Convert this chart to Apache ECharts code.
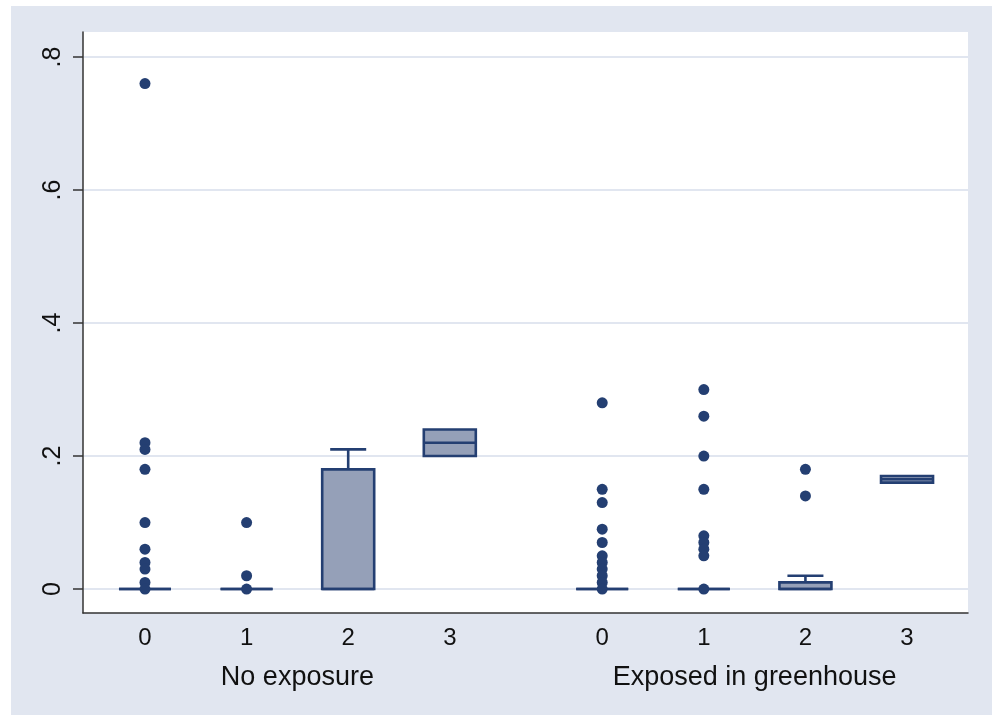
<!DOCTYPE html>
<html>
<head>
<meta charset="utf-8">
<script src="https://cdn.jsdelivr.net/npm/echarts@6.0.0/dist/echarts.min.js"></script>
<style>
  html, body { margin: 0; padding: 0; background: #ffffff; }
  #chart { width: 992px; height: 715px; }
</style>
</head>
<body>
<div id="chart"></div>
<script>
// Positions of the eight boxes on the horizontal scale (two groups of four)
const xPositions = [0, 1, 2, 3, 4.5, 5.5, 6.5, 7.5];
const xTickLabels = ['0', '1', '2', '3', '0', '1', '2', '3'];
const groupCenters = [1.5, 6];
const groupLabels = ['No exposure', 'Exposed in greenhouse'];
const yTicks = [0, 0.2, 0.4, 0.6, 0.8];

// Box statistics per box: [lower whisker, Q1, median, Q3, upper whisker]
const noExposureBoxes = [
  [0, 0, 0, 0, 0],
  [0, 0, 0, 0, 0],
  [0, 0, 0, 0.18, 0.21],
  [0.20, 0.20, 0.22, 0.24, 0.24]
];
const greenhouseBoxes = [
  [0, 0, 0, 0, 0],
  [0, 0, 0, 0, 0],
  [0, 0, 0, 0.01, 0.02],
  [0.16, 0.16, 0.165, 0.17, 0.17]
];

// Outside values per box
const noExposureOutliers = [
  [0.76, 0.22, 0.21, 0.18, 0.10, 0.06, 0.04, 0.03, 0.01, 0],
  [0.10, 0.02, 0],
  [],
  []
];
const greenhouseOutliers = [
  [0.28, 0.15, 0.13, 0.09, 0.07, 0.05, 0.04, 0.03, 0.02, 0.01, 0],
  [0.30, 0.26, 0.20, 0.15, 0.08, 0.07, 0.06, 0.05, 0],
  [0.18, 0.14],
  []
];

const navy = '#243f72';
const boxFill = '#95a0b8';
const gridColor = '#e1e6f0';
const BOX_W = 52;
const CAP_W = 36;
const LINE_W = 2.6;

const allBoxes = noExposureBoxes.concat(greenhouseBoxes);
const allOutliers = noExposureOutliers.concat(greenhouseOutliers);

const boxData = allBoxes.map((s, i) => [xPositions[i]].concat(s));
const outlierData = [];
allOutliers.forEach((vals, i) => {
  vals.forEach(v => outlierData.push([xPositions[i], v]));
});

function labelFromValue(list, labels) {
  return function (value) {
    for (let i = 0; i < list.length; i++) {
      if (Math.abs(list[i] - value) < 1e-6) return labels[i];
    }
    return '';
  };
}

function renderBox(params, api) {
  const x = api.value(0);
  const lo = api.value(1), q1 = api.value(2), med = api.value(3),
        q3 = api.value(4), hi = api.value(5);
  const cx = api.coord([x, 0])[0];
  const yLo = api.coord([x, lo])[1];
  const yQ1 = api.coord([x, q1])[1];
  const yMed = api.coord([x, med])[1];
  const yQ3 = api.coord([x, q3])[1];
  const yHi = api.coord([x, hi])[1];
  const line = { stroke: navy, lineWidth: LINE_W, fill: null };
  const children = [];
  if (hi > q3) {
    children.push({ type: 'line', shape: { x1: cx, y1: yQ3, x2: cx, y2: yHi }, style: line });
    children.push({ type: 'line', shape: { x1: cx - CAP_W / 2, y1: yHi, x2: cx + CAP_W / 2, y2: yHi }, style: line });
  }
  if (lo < q1) {
    children.push({ type: 'line', shape: { x1: cx, y1: yQ1, x2: cx, y2: yLo }, style: line });
    children.push({ type: 'line', shape: { x1: cx - CAP_W / 2, y1: yLo, x2: cx + CAP_W / 2, y2: yLo }, style: line });
  }
  children.push({
    type: 'rect',
    shape: { x: cx - BOX_W / 2, y: yQ3, width: BOX_W, height: yQ1 - yQ3 },
    style: { fill: boxFill, stroke: navy, lineWidth: LINE_W }
  });
  children.push({ type: 'line', shape: { x1: cx - BOX_W / 2, y1: yMed, x2: cx + BOX_W / 2, y2: yMed }, style: line });
  return { type: 'group', children: children };
}

const chart = echarts.init(document.getElementById('chart'), null, { renderer: 'canvas' });

chart.setOption({
  animation: false,
  backgroundColor: '#ffffff',
  textStyle: { fontFamily: '"Liberation Sans", Arial, sans-serif' },
  graphic: [{
    type: 'rect',
    left: 11, top: 6,
    shape: { width: 981, height: 709 },
    style: { fill: gridColor },
    z: -10, silent: true
  }],
  grid: {
    left: 83, top: 32, right: 24, bottom: 102,
    show: true, backgroundColor: '#ffffff', borderWidth: 0
  },
  xAxis: [{
    type: 'value',
    min: -0.61, max: 8.1,
    position: 'bottom',
    axisLine: { show: true, onZero: false, lineStyle: { color: '#333333', width: 1.5 } },
    axisTick: { show: false },
    splitLine: { show: false },
    axisLabel: {
      customValues: xPositions,
      formatter: labelFromValue(xPositions, xTickLabels),
      fontSize: 24, color: '#111111', margin: 13
    }
  }, {
    type: 'value',
    min: -0.61, max: 8.1,
    position: 'bottom',
    offset: 0,
    axisLine: { show: false },
    axisTick: { show: false },
    splitLine: { show: false },
    axisLabel: {
      customValues: groupCenters,
      formatter: labelFromValue(groupCenters, groupLabels),
      fontSize: 27, color: '#111111', margin: 51
    }
  }],
  yAxis: {
    type: 'value',
    min: -0.036, max: 0.8376,
    axisLine: { show: true, onZero: false, lineStyle: { color: '#333333', width: 1.5 } },
    axisTick: { show: true, length: 10, customValues: yTicks, lineStyle: { color: '#333333', width: 1.5 } },
    splitLine: { show: true, lineStyle: { color: gridColor, width: 2 } },
    axisLabel: {
      customValues: yTicks,
      rotate: 90,
      margin: 17,
      fontSize: 25, color: '#111111',
      formatter: v => (v === 0 ? '0' : String(+v.toFixed(2)).replace(/^0\./, '.'))
    }
  },
  series: [{
    type: 'custom',
    xAxisIndex: 0,
    renderItem: renderBox,
    encode: { x: 0, y: [1, 2, 3, 4, 5] },
    data: boxData,
    z: 2
  }, {
    type: 'scatter',
    xAxisIndex: 0,
    symbol: 'circle',
    symbolSize: 11,
    itemStyle: { color: navy, opacity: 1 },
    data: outlierData,
    z: 3
  }]
});
</script>
</body>
</html>
